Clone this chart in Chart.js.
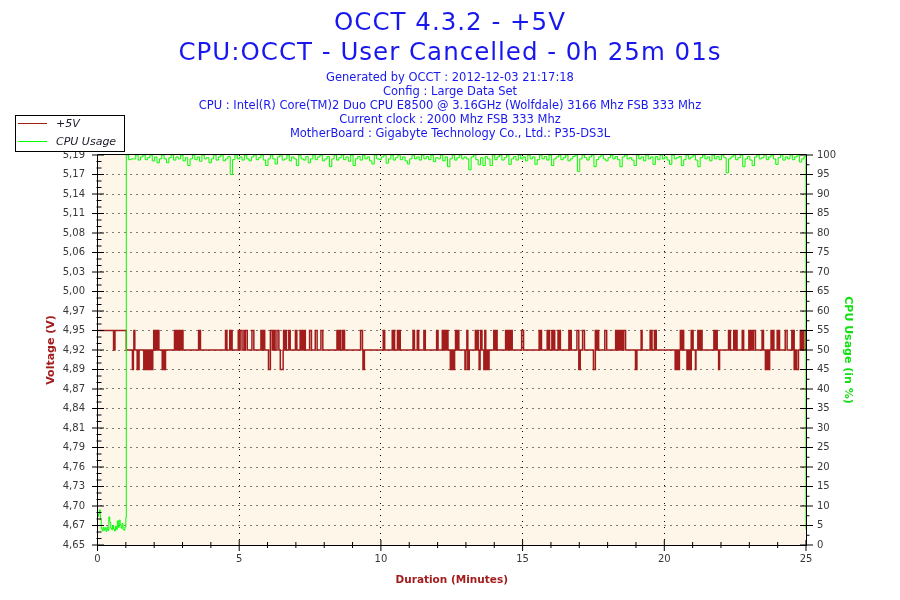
<!DOCTYPE html>
<html>
<head>
<meta charset="utf-8">
<title>OCCT 4.3.2 - +5V</title>
<script src="https://cdn.jsdelivr.net/npm/chart.js@4.4.0/dist/chart.umd.min.js"></script>
<style>
html, body { margin: 0; padding: 0; background: #ffffff; }
#wrap { position: relative; width: 900px; height: 600px; overflow: hidden; font-family: "DejaVu Sans", Verdana, sans-serif; }
#chart { position: absolute; left: 0; top: 0; }
.t { position: absolute; left: 0; width: 900px; text-align: center; color: #1818ee; white-space: nowrap; }
.big { font-size: 24.5px; line-height: 30px; letter-spacing: 1px; }
.small { font-size: 11.5px; line-height: 14px; }
#legend { position: absolute; left: 15px; top: 115px; width: 110px; height: 37px; box-sizing: border-box; border: 1px solid #000; background: #fff; }
#legend .ls { position: absolute; left: 2px; width: 29px; height: 1px; }
#legend .lt { position: absolute; left: 40px; font-size: 11px; line-height: 13px; font-style: italic; color: #1a1a2a; white-space: nowrap; }
</style>
</head>
<body>
<div id="wrap">
  <canvas id="chart" width="900" height="600"></canvas>
  <div class="t big" style="top:6.7px">OCCT 4.3.2 - +5V</div>
  <div class="t big" style="top:36.7px">CPU:OCCT - User Cancelled - 0h 25m 01s</div>
  <div class="t small" style="top:70px">Generated by OCCT : 2012-12-03 21:17:18</div>
  <div class="t small" style="top:84.1px">Config : Large Data Set</div>
  <div class="t small" style="top:98.1px">CPU : Intel(R) Core(TM)2 Duo CPU E8500 @ 3.16GHz (Wolfdale) 3166 Mhz FSB 333 Mhz</div>
  <div class="t small" style="top:112.2px">Current clock : 2000 Mhz FSB 333 Mhz</div>
  <div class="t small" style="top:126.2px">MotherBoard : Gigabyte Technology Co., Ltd.: P35-DS3L</div>
  <div id="legend">
    <div class="ls" style="top:7px;background:#a21c1c"></div>
    <div class="lt" style="top:0.8px">+5V</div>
    <div class="ls" style="top:25px;background:#00ff00"></div>
    <div class="lt" style="top:19.2px">CPU Usage</div>
  </div>
</div>
<script>
// ---------------- DATA ----------------
const seriesNames = ["+5V", "CPU Usage"];

// Left axis (voltage) tick labels, as printed
const voltTickLabels = ["4,65","4,67","4,70","4,73","4,76","4,79","4,81","4,84","4,87","4,89","4,92",
                        "4,95","4,97","5,00","5,03","5,06","5,08","5,11","5,14","5,17","5,19"];
const voltMin = 4.65;
const voltMax = 5.19;

// Right axis (CPU %) tick labels
const cpuTickLabels = ["0","5","10","15","20","25","30","35","40","45","50",
                       "55","60","65","70","75","80","85","90","95","100"];

// Bottom axis (minutes) tick labels
const minuteTickLabels = ["0","5","10","15","20","25"];

// Voltage readings: the three levels seen on the chart (V)
const voltLevels = [4.893, 4.920, 4.947];

// Voltage change points: second at which a level starts, and the level index
const voltSec = [
  0,34,37,61,74,76,77,79,84,85,87,88,98,101,103,106,107,109,111,114,
  115,117,119,121,122,123,126,128,129,130,137,140,141,144,163,165,167,170,171,174,
  175,178,179,181,214,216,217,218,271,274,280,282,283,285,298,300,302,306,310,311,
  313,317,327,331,346,349,352,354,362,366,370,373,376,380,384,387,393,394,396,398,
  400,405,408,419,422,429,431,433,435,437,440,449,453,461,465,473,477,507,510,512,
  514,518,520,521,523,557,561,562,565,605,608,624,626,628,629,635,638,640,641,668,
  671,677,680,691,694,718,721,730,733,735,738,739,742,747,749,750,753,754,756,758,
  760,762,765,778,780,782,784,787,800,803,804,806,808,810,811,814,818,820,822,825,
  826,829,839,841,843,846,864,867,869,872,874,876,877,878,898,902,935,937,939,940,
  952,954,956,957,962,965,966,968,975,977,978,980,998,1000,1001,1003,1015,1019,1022,1027,
  1031,1050,1054,1057,1059,1061,1074,1078,1097,1100,1102,1104,1106,1108,1110,1112,1114,1118,1139,1142,
  1151,1153,1170,1172,1173,1174,1179,1181,1182,1183,1223,1226,1227,1228,1230,1232,1234,1236,1238,1241,
  1248,1250,1252,1254,1256,1257,1259,1260,1261,1266,1267,1271,1273,1275,1277,1278,1280,1305,1308,1310,
  1312,1315,1317,1336,1338,1339,1340,1347,1349,1351,1354,1365,1368,1379,1381,1383,1386,1389,1393,1407,
  1410,1414,1416,1417,1420,1421,1423,1426,1429,1430,1432,1439,1441,1442,1444,1456,1460,1470,1473,1474,
  1475,1478,1480,1484,1488,1490,1491,1494,1495,1499,1501
];
const voltLvl = [
  2,1,2,1,0,1,2,1,0,1,0,1,0,1,0,1,0,1,0,1,
  0,1,2,1,2,1,2,1,2,1,0,1,0,1,2,1,2,1,2,1,
  2,1,2,1,2,1,2,1,2,1,2,1,2,1,2,1,2,1,2,1,
  2,1,2,1,2,1,2,1,0,2,1,2,1,2,1,0,1,2,1,2,
  1,2,1,2,1,2,1,2,1,2,1,2,1,2,1,2,1,2,1,2,
  1,2,1,2,1,2,1,0,1,2,1,2,1,2,1,2,1,2,1,2,
  1,2,1,2,1,2,1,2,1,2,1,2,1,0,1,0,1,0,1,2,
  1,2,1,0,1,2,0,1,2,1,2,1,0,1,2,1,0,2,0,1,
  0,1,2,1,2,1,2,1,2,1,2,1,2,1,2,1,2,1,2,1,
  2,1,2,1,2,1,2,1,2,1,2,1,2,1,2,1,2,0,1,2,
  1,0,2,1,2,1,2,1,2,1,2,1,2,1,2,1,2,1,0,1,
  2,1,2,1,2,1,2,1,2,1,0,1,0,1,0,1,2,1,2,1,
  0,1,0,1,0,2,1,2,1,0,1,2,1,2,1,2,1,2,1,2,
  1,0,1,2,1,2,1,2,1,2,1,2,1,2,1,2,1,2,1,2,
  1,0,1,0,1,0,1,2,1,2,1,2,1,2,1,2,1,2,1,2,
  0,1,0,1,2,1,2,1,2,1,1
];

// CPU usage (%) before the load starts: one reading every 2 s from 0 s to 60 s
const cpuIdleStartSec = 0;
const cpuIdleStepSec = 2;
const cpuIdle = [7.3,8.0,9.0,6.5,4.2,3.6,4.5,3.8,4.4,3.5,4.6,3.7,7.2,5.8,4.3,3.9,
                 5.0,4.1,3.6,4.8,4.0,6.2,4.5,6.4,5.2,4.3,5.5,4.0,3.8,4.6,7.0];

// CPU usage (%) under load: one reading every 5 s from 61 s
const cpuLoadStartSec = 61;
const cpuLoadStepSec = 5;
const cpuLoad = [
  100,98.8,99.0,99.0,100,98.7,99.5,100,98.8,99.3,100,98.5,99.5,98.0,99.0,100,
  99.0,98.0,99.3,100,98.7,99.5,99.0,100,98.5,99.3,97.3,99.0,100,98.8,99.5,98.4,
  100,99.0,99.3,98.0,99.0,100,98.7,99.5,100,98.5,99.0,99.6,95.0,98.8,100,99.0,
  99.5,98.7,100,99.0,98.5,99.5,100,98.8,99.3,100,98.7,97.3,99.0,100,99.0,97.7,
  99.5,100,98.7,99.0,100,98.5,99.5,99.0,97.3,100,99.0,98.7,99.6,98.0,99.0,100,
  98.8,99.5,100,98.5,99.0,99.6,97.0,99.0,100,98.7,99.3,100,98.8,99.5,98.4,100,
  97.3,99.0,99.6,98.7,100,99.0,99.5,98.5,97.7,100,99.0,98.8,99.5,100,97.9,99.0,
  100,98.7,99.3,100,98.8,99.5,98.5,97.7,99.0,100,99.0,99.5,98.7,100,99.0,99.6,
  98.8,100,98.3,99.3,99.0,100,98.5,99.5,97.0,99.0,100,98.7,99.3,100,99.0,99.5,
  99.0,96.2,99.5,100,98.8,97.5,99.3,97.3,99.6,99.0,97.3,100,98.8,99.5,100,98.7,
  99.3,100,97.6,99.0,99.6,98.7,100,99.0,99.5,98.5,100,99.0,99.5,97.6,98.8,100,
  99.0,99.6,98.7,100,97.3,99.0,99.5,100,98.8,99.3,100,98.5,99.0,99.6,100,95.8,
  99.0,100,99.3,98.7,99.5,100,97.0,98.8,99.5,100,99.0,98.5,99.3,100,99.0,99.6,
  98.8,97.0,99.5,100,99.0,99.3,98.7,97.3,100,99.0,99.5,98.5,100,99.0,99.5,97.6,
  99.6,98.8,100,99.0,99.5,98.7,97.6,100,99.0,99.3,99.6,97.3,98.8,100,99.0,99.5,
  100,98.7,97.0,99.3,100,99.0,99.5,98.5,100,99.0,99.6,98.8,100,99.3,95.4,99.0,
  99.5,100,98.8,99.3,100,97.0,99.0,99.6,98.7,97.3,99.5,100,99.0,99.3,100,98.8,
  99.5,100,99.0,97.6,99.3,100,98.7,99.5,99.0,100,98.8,99.5,100,98.2,99.0,99.6
];

// CPU usage when the test was cancelled
const cpuEndSec = [1499, 1500];
const cpuEnd = [99.5, 4.0];

// ---------------- STYLE ----------------
const voltColor = "#a21c1c";
const cpuColor = "#00ff00";
const cpuTitleColor = "#11e011";
const tickColor = "#383838";
const plotBg = "#fdf6e9";

Chart.defaults.font.family = '"DejaVu Sans", Verdana, sans-serif';

if (voltSec.length !== voltLvl.length) console.warn("volt arrays differ", voltSec.length, voltLvl.length);

const voltData = voltSec.map((s, i) => ({ x: s / 60, y: voltLevels[voltLvl[i]] }));
const cpuData = []
  .concat(cpuIdle.map((v, i) => ({ x: (cpuIdleStartSec + i * cpuIdleStepSec) / 60, y: v })))
  .concat(cpuLoad.map((v, i) => ({ x: (cpuLoadStartSec + i * cpuLoadStepSec) / 60, y: v })))
  .concat(cpuEnd.map((v, i) => ({ x: cpuEndSec[i] / 60, y: v })));

const snap = v => Math.round(v - 0.5) + 0.5;

const occtFrame = {
  id: "occtFrame",
  beforeDatasetsDraw(chart) {
    const { ctx, chartArea: a, scales } = chart;
    ctx.save();
    ctx.fillStyle = plotBg;
    ctx.fillRect(a.left, a.top, a.right - a.left, a.bottom - a.top);
    ctx.strokeStyle = "#000";
    ctx.lineWidth = 1;
    ctx.setLineDash([1, 5]);
    ctx.beginPath();
    const yt = scales.yV.ticks;
    yt.forEach((t, i) => {
      if (i === 0 || i === yt.length - 1) return;
      const y = snap(scales.yV.getPixelForValue(t.value));
      ctx.moveTo(a.left + 3, y); ctx.lineTo(a.right, y);
    });
    const xt = scales.x.ticks;
    xt.forEach((t, i) => {
      if (i === 0 || i === xt.length - 1) return;
      const x = snap(scales.x.getPixelForValue(t.value));
      ctx.moveTo(x, a.top); ctx.lineTo(x, a.bottom);
    });
    ctx.stroke();
    ctx.restore();
  },
  afterDatasetsDraw(chart) {
    const { ctx, chartArea: a, scales } = chart;
    ctx.save();
    ctx.strokeStyle = "#000";
    ctx.lineWidth = 1;
    ctx.setLineDash([]);
    const L = snap(a.left), R = snap(a.right), T = snap(a.top), B = snap(a.bottom);
    ctx.beginPath();
    ctx.rect(L, T - 1, R - L, B - T + 1);
    ctx.stroke();
    ctx.beginPath();
    // left axis ticks
    const yV = scales.yV, yt = yV.ticks;
    yt.forEach((t, i) => {
      const y = yV.getPixelForValue(t.value);
      ctx.moveTo(a.left - 5.5, y); ctx.lineTo(a.left + 6.5, y);
      if (i < yt.length - 1) {
        const y2 = yV.getPixelForValue(yt[i + 1].value);
        for (let k = 1; k <= 2; k++) {
          const ym = y + (y2 - y) * k / 3;
          ctx.moveTo(a.left - 1, ym); ctx.lineTo(a.left + 4, ym);
        }
      }
    });
    // right axis ticks
    const yC = scales.yC, ct = yC.ticks;
    ct.forEach((t, i) => {
      const y = yC.getPixelForValue(t.value);
      ctx.moveTo(a.right - 6, y); ctx.lineTo(a.right + 7, y);
      if (i < ct.length - 1) {
        const ym = (y + yC.getPixelForValue(ct[i + 1].value)) / 2;
        ctx.moveTo(a.right, ym); ctx.lineTo(a.right + 3.5, ym);
      }
    });
    // bottom axis ticks
    const xs = scales.x, xt = xs.ticks;
    xt.forEach((t, i) => {
      const x = xs.getPixelForValue(t.value);
      ctx.moveTo(x, a.bottom - 5); ctx.lineTo(x, a.bottom + 6);
      if (i < xt.length - 1) {
        const x2 = xs.getPixelForValue(xt[i + 1].value);
        for (let k = 1; k <= 4; k++) {
          const xm = x + (x2 - x) * k / 5;
          ctx.moveTo(xm, a.bottom - 3); ctx.lineTo(xm, a.bottom + 3);
        }
      }
    });
    ctx.stroke();
    ctx.restore();
  }
};

new Chart(document.getElementById("chart"), {
  type: "line",
  data: {
    datasets: [
      { label: seriesNames[0], data: voltData, xAxisID: "x", yAxisID: "yV",
        borderColor: voltColor, borderWidth: 1.5, pointRadius: 0, stepped: true, fill: false, order: 1 },
      { label: seriesNames[1], data: cpuData, xAxisID: "x", yAxisID: "yC",
        borderColor: cpuColor, borderWidth: 1, pointRadius: 0, stepped: true, fill: false, order: 0 }
    ]
  },
  options: {
    responsive: false,
    animation: false,
    devicePixelRatio: 1,
    layout: { padding: { top: 155, left: 0, right: 0, bottom: 0 } },
    plugins: { legend: { display: false }, tooltip: { enabled: false }, title: { display: false } },
    scales: {
      x: {
        type: "linear", position: "bottom", min: 0, max: 25,
        grid: { display: false, drawTicks: false }, border: { display: false },
        afterBuildTicks: s => { s.ticks = minuteTickLabels.map(l => ({ value: Number(l) })); },
        afterFit: s => { s.height = 55; },
        ticks: { padding: 8.5, color: tickColor, font: { size: 10 }, maxRotation: 0, autoSkip: false,
                 callback: (v, i) => minuteTickLabels[i] },
        title: { display: true, text: "Duration (Minutes)", color: voltColor,
                 font: { size: 10.5, weight: "bold" }, padding: { top: 0, bottom: 13.7 } }
      },
      yV: {
        type: "linear", position: "left", min: voltMin, max: voltMax,
        grid: { display: false, drawTicks: false }, border: { display: false },
        afterBuildTicks: s => {
          const n = voltTickLabels.length - 1;
          s.ticks = voltTickLabels.map((l, i) => ({ value: voltMin + (voltMax - voltMin) * i / n }));
        },
        afterFit: s => { s.width = 97.5; },
        ticks: { padding: 12.5, color: tickColor, font: { size: 10 }, autoSkip: false,
                 callback: (v, i) => voltTickLabels[i] },
        title: { display: true, text: "Voltage (V)", color: voltColor,
                 font: { size: 11, weight: "bold" }, padding: { top: 44.4, bottom: 0 } }
      },
      yC: {
        type: "linear", position: "right", min: 0, max: 100,
        grid: { display: false, drawTicks: false }, border: { display: false },
        afterBuildTicks: s => { s.ticks = cpuTickLabels.map(l => ({ value: Number(l) })); },
        afterFit: s => { s.width = 94; },
        ticks: { padding: 11, color: tickColor, font: { size: 10 }, autoSkip: false,
                 callback: (v, i) => cpuTickLabels[i] },
        title: { display: true, text: "CPU Usage (in %)", color: cpuTitleColor,
                 font: { size: 11, weight: "bold" }, padding: { top: 45.4, bottom: 0 } }
      }
    }
  },
  plugins: [occtFrame]
});
</script>
</body>
</html>
